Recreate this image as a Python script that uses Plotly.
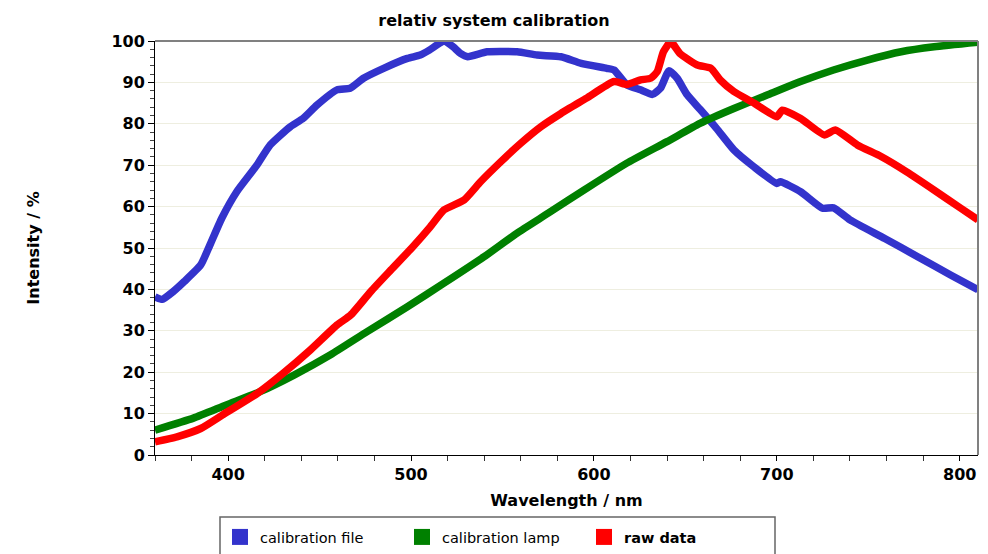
import plotly.graph_objects as go

# ---- data ----
wl_file = [360, 364, 370, 376, 385, 390, 396.5, 404.7, 415.7, 423, 434, 441, 448.5, 459.5,
           466.7, 474, 485, 498, 505, 510, 514, 518, 523, 527, 531, 541.6, 558, 569, 582,
           593, 607, 611, 618, 625.5, 632, 636.4, 641, 645.5, 651, 658, 667, 676.5, 687.5,
           700, 702, 713, 725, 731, 740, 759, 777, 795, 810]
cal_file = [38.2, 37.6, 39.5, 41.9, 45.9, 50.7, 57.2, 63.6, 70.0, 74.9, 79.3, 81.3, 84.5, 88.2,
            88.6, 91.0, 93.4, 95.8, 96.6, 97.8, 99.0, 100.0, 98.6, 97.0, 96.2, 97.4, 97.4, 96.6, 96.2,
            94.6, 93.4, 93.0, 89.4, 88.2, 87.1, 88.6, 92.8, 91.0, 87.0, 83.5, 78.9, 73.7, 69.6,
            65.6, 66.0, 63.6, 59.6, 59.7, 56.8, 52.3, 47.9, 43.5, 39.9]

wl_lamp = [360, 381, 399, 417.5, 436, 456, 476, 498, 518, 540, 558, 575, 596, 618, 640,
           658, 676.5, 695, 713, 731, 749.5, 768, 786, 810]
cal_lamp = [6.0, 8.9, 12.1, 15.3, 19.3, 24.2, 29.8, 35.8, 41.5, 47.9, 53.6, 58.4, 64.4, 70.5, 75.7,
            80.1, 83.7, 87.0, 90.2, 93.0, 95.4, 97.4, 98.6, 99.7]

wl_raw = [360, 372, 385, 397, 416, 430, 445, 459.5, 467, 478, 489, 501, 510.5, 518, 529, 538,
          549, 560, 571, 582, 596, 611, 618, 625.5, 631, 634.6, 638, 642, 647, 656.5, 664, 669,
          676.5, 687.5, 700, 703, 713, 726, 732, 744, 757, 771, 786, 800.6, 810]
raw_data = [3.2, 4.4, 6.4, 9.7, 14.9, 19.7, 25.4, 31.4, 33.8, 39.5, 44.7, 50.3, 55.1, 59.2, 61.6, 66.0,
            70.8, 75.3, 79.3, 82.5, 86.2, 90.2, 89.5, 90.6, 91.0, 92.6, 97.4, 99.8, 97.0, 94.2, 93.4, 90.6,
            87.8, 85.0, 81.7, 83.3, 81.3, 77.3, 78.5, 74.9, 72.1, 68.4, 64.0, 59.6, 56.8]

series_names = ["calibration file", "calibration lamp", "<b>raw data</b>"]
series_colors = ["#3333cc", "#008000", "#ff0000"]
x_ticks = [400, 500, 600, 700, 800]
y_ticks = [0, 10, 20, 30, 40, 50, 60, 70, 80, 90, 100]

FONT = "DejaVu Sans"

fig = go.Figure()
for xs, ys, col in [(wl_file, cal_file, series_colors[0]),
                    (wl_lamp, cal_lamp, series_colors[1]),
                    (wl_raw, raw_data, series_colors[2])]:
    fig.add_trace(go.Scatter(x=xs, y=ys, mode="lines",
                             line=dict(color=col, width=7.5, shape="spline", smoothing=0.5),
                             showlegend=False, hoverinfo="x+y"))
# legend entries (square swatches)
for name, col in zip(series_names, series_colors):
    fig.add_trace(go.Scatter(x=[None], y=[None], mode="markers", name=name,
                             marker=dict(symbol="square", size=19, color=col)))

# plot area: x 155..978, y 41..455 in a 988x554 page
L, R, T, B = 155, 10, 41, 99
PW, PH = 988 - L - R, 554 - T - B

def px_x(p):
    return (p - L) / PW

def px_y(p):
    return (554 - B - p) / PH

fig.update_layout(
    width=988, height=554,
    margin=dict(l=L, r=R, t=T, b=B, autoexpand=False),
    paper_bgcolor="white", plot_bgcolor="white",
    font=dict(family=FONT, color="black"),
    title=dict(text="relativ system calibration", x=0.5, xref="container", xanchor="center",
               y=1 - 20 / 554, yref="container", yanchor="middle",
               font=dict(family=FONT, size=16, weight="bold", color="black")),
    xaxis=dict(range=[360, 810], tickmode="array", tickvals=x_ticks,
               ticktext=[str(v) for v in x_ticks],
               showgrid=False, zeroline=False, showline=True, linecolor="black", linewidth=1,
               ticks="outside", ticklen=5, tickcolor="black",
               minor=dict(dtick=20, tick0=0, ticks="outside", ticklen=5, tickcolor="#333", showgrid=False),
               tickfont=dict(family=FONT, size=16, weight="bold", color="black"),
               title=dict(text="Wavelength / nm", standoff=11,
                          font=dict(family=FONT, size=16, weight="bold", color="black"))),
    yaxis=dict(range=[0, 100], tickmode="array", tickvals=y_ticks,
               ticktext=[str(v) for v in y_ticks],
               showgrid=True, gridcolor="#eeeee0", gridwidth=1, zeroline=False,
               showline=True, linecolor="black", linewidth=1,
               ticks="outside", ticklen=6, tickcolor="black",
               minor=dict(dtick=2, tick0=0, ticks="outside", ticklen=4, tickcolor="#444", showgrid=False),
               tickfont=dict(family=FONT, size=16, weight="bold", color="black"),
               title=dict(text="Intensity / %", standoff=67,
                          font=dict(family=FONT, size=16, weight="bold", color="black"))),
    legend=dict(orientation="h", x=px_x(220), xanchor="left", y=px_y(521), yanchor="top",
                borderwidth=0, bgcolor="rgba(0,0,0,0)",
                entrywidth=137, entrywidthmode="pixels",
                font=dict(family=FONT, size=14.5, color="black")),
    shapes=[
        dict(type="line", xref="paper", yref="paper", x0=0, x1=1, y0=1, y1=1,
             line=dict(color="#808080", width=2)),
        dict(type="line", xref="paper", yref="paper", x0=1, x1=1, y0=0, y1=1,
             line=dict(color="#808080", width=2)),
        dict(type="rect", xref="paper", yref="paper", x0=px_x(220), x1=px_x(775),
             y0=px_y(560), y1=px_y(517), line=dict(color="#666666", width=1.5),
             fillcolor="rgba(0,0,0,0)"),
    ],
)

fig.write_html("out.html", config={"displayModeBar": False},
               post_script="document.body.style.margin='0';")
